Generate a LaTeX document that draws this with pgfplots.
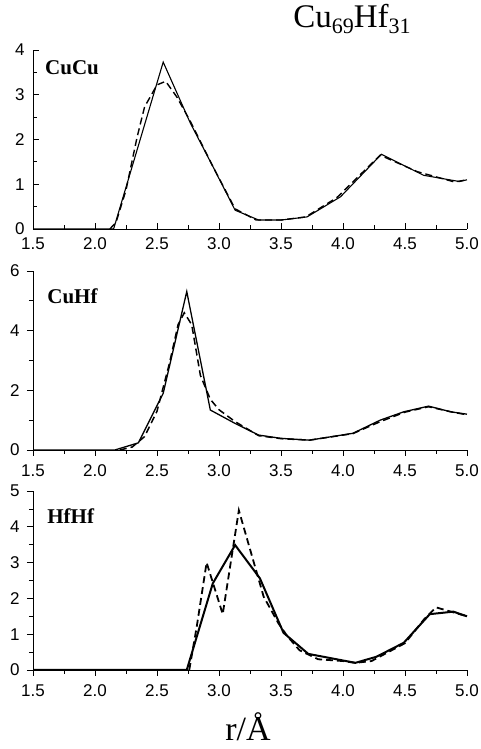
\documentclass[border=0pt]{standalone}
\usepackage{fontspec}
\setmainfont{Liberation Serif}
\newfontfamily\arial{Liberation Sans}
\usepackage{pgfplots}
\pgfplotsset{compat=1.18}
\pgfplotsset{
  panel/.style={
    scale only axis, width=434pt, height=179pt,
    xmin=1.5, xmax=5.0, xtick={1.5,2.0,...,5.0}, minor x tick num=1,
    axis x line*=bottom, axis y line*=left,
    axis line style={line width=0.9pt},
    every tick/.style={black, line width=0.8pt},
    major tick length=6pt, minor tick length=4pt,
    /pgf/number format/assume math mode=true,
    ticklabel style={font=\arial\fontsize{17}{17}\selectfont},
    xticklabel style={/tikz/yshift=-5pt, /pgf/number format/fixed, /pgf/number format/fixed zerofill, /pgf/number format/precision=1},
    yticklabel style={/pgf/number format/fixed, /pgf/number format/precision=0},
    clip=false,
  },
  sol/.style={black, line join=miter},
  dsh/.style={black, dash pattern=on 7pt off 4pt},
}
\begin{document}
\begin{tikzpicture}[x=1pt,y=1pt]
\useasboundingbox (0,0) rectangle (480,749);
% Top panel
\begin{axis}[panel, at={(33pt,520pt)}, anchor=south west,
  ymin=0, ymax=4, ytick={0,1,2,3,4}, minor y tick num=1, tick align=inside,
  yticklabel style={/tikz/xshift=-5pt}]
\addplot[sol, line width=1.1pt] coordinates {
(1.5,0) (2.15,0) (2.55,3.73) (2.77,2.36) (2.95,1.4) (3.13,0.42) (3.32,0.2) (3.5,0.2) (3.71,0.27) (3.98,0.72) (4.31,1.67) (4.65,1.2) (4.94,1.06) (5.0,1.1)};
\addplot[dsh, line width=1.4pt] coordinates {
(2.12,0.0) (2.17,0.15) (2.25,0.87) (2.34,2.06) (2.40,2.73) (2.5,3.22) (2.57,3.3) (2.66,2.95) (2.77,2.4) (2.95,1.4) (3.13,0.45) (3.3,0.2) (3.5,0.2) (3.7,0.27) (3.95,0.7) (4.3,1.65) (4.6,1.28) (4.9,1.05) (5.0,1.1)};
\node[anchor=west, font=\bfseries\fontsize{21}{22}\selectfont] at (rel axis cs:0.02,0.9) {CuCu};
\end{axis}
% Middle panel
\begin{axis}[panel, at={(33pt,299pt)}, anchor=south west,
  ymin=0, ymax=6, ytick={0,2,4,6}, minor y tick num=1, tick align=outside,
  yticklabel style={/tikz/xshift=-4pt}]
\addplot[sol, line width=1.3pt] coordinates {
(1.5,0) (2.16,0) (2.35,0.24) (2.55,1.9) (2.74,5.31) (2.93,1.34) (3.13,0.89) (3.32,0.5) (3.5,0.39) (3.73,0.33) (4.08,0.56) (4.3,1.0) (4.49,1.28) (4.69,1.47) (4.87,1.28) (5.0,1.2)};
\addplot[dsh, line width=1.5pt] coordinates {
(2.2,0) (2.3,0.1) (2.4,0.45) (2.5,1.3) (2.6,2.9) (2.67,4.2) (2.72,4.6) (2.78,4.2) (2.85,2.5) (2.93,1.7) (3.0,1.35) (3.13,0.95) (3.32,0.48) (3.5,0.38) (3.73,0.33) (4.08,0.55) (4.3,0.95) (4.5,1.27) (4.69,1.45) (4.87,1.28) (5.0,1.18)};
\node[anchor=west, font=\bfseries\fontsize{21}{22}\selectfont] at (rel axis cs:0.025,0.86) {CuHf};
\end{axis}
% Bottom panel
\begin{axis}[panel, at={(33pt,79pt)}, anchor=south west,
  ymin=0, ymax=5, ytick={0,1,2,3,4,5}, minor y tick num=1, tick align=outside,
  yticklabel style={/tikz/xshift=-4pt}]
\addplot[sol, line width=2pt] coordinates {
(1.5,0) (2.74,0) (2.95,2.42) (3.13,3.49) (3.33,2.56) (3.52,1.04) (3.72,0.45) (4.1,0.2) (4.27,0.37) (4.49,0.76) (4.7,1.56) (4.89,1.63) (5.0,1.5)};
\addplot[dsh, line width=1.8pt] coordinates {
(2.76,0) (2.82,1.2) (2.9,3.0) (3.03,1.56) (3.16,4.46) (3.36,2.05) (3.48,1.3) (3.55,0.95) (3.65,0.55) (3.8,0.3) (4.0,0.25) (4.1,0.2) (4.23,0.25) (4.5,0.75) (4.65,1.4) (4.75,1.75) (4.9,1.6) (5.0,1.5)};
\node[anchor=west, font=\bfseries\fontsize{21}{22}\selectfont] at (rel axis cs:0.025,0.86) {HfHf};
\end{axis}
\node[anchor=base, font=\fontsize{33}{34}\selectfont, inner sep=0pt] at (352,721) {Cu\raisebox{-6pt}{\fontsize{22}{22}\selectfont 69}Hf\raisebox{-6pt}{\fontsize{22}{22}\selectfont 31}};
\node[anchor=base, font=\fontsize{34}{35}\selectfont, inner sep=0pt] at (248,9) {r/Å};
\end{tikzpicture}
\end{document}
